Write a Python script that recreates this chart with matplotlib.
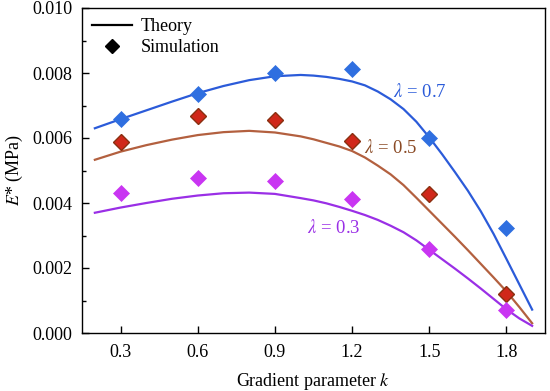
import matplotlib
matplotlib.use("Agg")
import matplotlib.pyplot as plt
from matplotlib.lines import Line2D

plt.rcParams['font.family'] = ['Liberation Serif', 'DejaVu Serif']
plt.rcParams['mathtext.fontset'] = 'stix'

# Simulation data
k_sim = [0.3, 0.6, 0.9, 1.2, 1.5, 1.8]
sim_07 = [0.00658, 0.00734, 0.00801, 0.00811, 0.00601, 0.00322]
sim_05 = [0.00587, 0.00669, 0.00655, 0.00591, 0.00428, 0.00121]
sim_03 = [0.00432, 0.00478, 0.00468, 0.00412, 0.00258, 0.00071]

# Theory curves (in 1e-3 MPa)
k_th = [0.2, 0.3, 0.4, 0.5, 0.6, 0.7, 0.8, 0.9, 1.0,
        1.05, 1.1, 1.15, 1.2, 1.25, 1.3, 1.35, 1.4, 1.45, 1.5,
        1.55, 1.6, 1.65, 1.7, 1.75, 1.8, 1.85, 1.9]
th_07 = [6.30, 6.58, 6.85, 7.12, 7.38, 7.60, 7.78, 7.90, 7.94,
         7.92, 7.88, 7.82, 7.74, 7.62, 7.43, 7.19, 6.89, 6.50, 6.02,
         5.50, 4.95, 4.38, 3.75, 3.05, 2.28, 1.50, 0.72]
th_05 = [5.33, 5.58, 5.78, 5.95, 6.09, 6.18, 6.22, 6.17, 6.05,
         5.96, 5.85, 5.74, 5.60, 5.40, 5.15, 4.88, 4.55, 4.16, 3.76,
         3.36, 2.96, 2.55, 2.13, 1.71, 1.28, 0.80, 0.30]
th_03 = [3.70, 3.86, 4.00, 4.13, 4.23, 4.30, 4.32, 4.28, 4.15,
         4.08, 3.99, 3.88, 3.76, 3.63, 3.48, 3.30, 3.10, 2.85, 2.56,
         2.27, 1.98, 1.68, 1.37, 1.05, 0.73, 0.45, 0.22]
th_07 = [v * 1e-3 for v in th_07]
th_05 = [v * 1e-3 for v in th_05]
th_03 = [v * 1e-3 for v in th_03]

x_ticks = [0.3, 0.6, 0.9, 1.2, 1.5, 1.8]
y_ticks = [0.000, 0.002, 0.004, 0.006, 0.008, 0.010]

c_blue_line, c_blue_m = '#2b5bd9', '#2f6fe0'
c_red_line, c_red_m, c_red_e = '#b3603f', '#d0281a', '#8a3010'
c_pur_line, c_pur_m = '#9a2fe6', '#c935f2'

fig = plt.figure(figsize=(5.5, 3.91), dpi=100)
ax = fig.add_axes([82/550, 1-333/391, (545-82)/550, (333-8)/391])

lw = 1.6
ax.plot(k_th, th_07, color=c_blue_line, lw=lw, solid_joinstyle='round')
ax.plot(k_th, th_05, color=c_red_line, lw=lw, solid_joinstyle='round')
ax.plot(k_th, th_03, color=c_pur_line, lw=lw, solid_joinstyle='round')

ms = 8.5
ax.plot(k_sim, sim_07, 'D', color=c_blue_m, ms=ms, mec=c_blue_m, mew=0.5, ls='none')
ax.plot(k_sim, sim_05, 'D', color=c_red_m, ms=ms, mec=c_red_e, mew=1.0, ls='none')
ax.plot(k_sim, sim_03, 'D', color=c_pur_m, ms=ms, mec=c_pur_m, mew=0.5, ls='none')

ax.text(1.465, 0.00742, r'$\lambda$ = 0.7', color=c_blue_line, fontsize=13.5, ha='center', va='center')
ax.text(1.351, 0.00569, r'$\lambda$ = 0.5', color='#8a4a25', fontsize=13.5, ha='center', va='center')
ax.text(1.13, 0.00323, r'$\lambda$ = 0.3', color=c_pur_line, fontsize=13.5, ha='center', va='center')

ax.set_xlim(0.15, 1.95)
ax.set_ylim(0.0, 0.010)
ax.set_xticks(x_ticks)
ax.set_xticklabels([f'{v:.1f}' for v in x_ticks])
ax.set_yticks(y_ticks)
ax.set_yticklabels([f'{v:.3f}' for v in y_ticks])
ax.set_yticks([0.001, 0.003, 0.005, 0.007, 0.009], minor=True)
ax.tick_params(axis='both', which='major', direction='in', length=5, width=1.0, labelsize=13, top=False, right=False)
ax.tick_params(axis='y', which='minor', direction='in', length=3, width=1.0)
ax.tick_params(axis='x', which='major', pad=8)
ax.tick_params(axis='y', which='major', pad=7)
for s in ax.spines.values():
    s.set_linewidth(1.0)

ax.set_xlabel(r'Gradient parameter $k$', fontsize=13, labelpad=7)
ax.set_ylabel(r'$E$* (MPa)', fontsize=13, labelpad=5)

handles = [Line2D([], [], color='black', lw=1.6),
           Line2D([], [], marker='D', color='black', ls='none', ms=7)]
ax.legend(handles, ['Theory', 'Simulation'], loc='upper left', frameon=False,
          fontsize=13, handlelength=2.2, borderaxespad=0.15, labelspacing=0.25,
          handletextpad=0.5, bbox_to_anchor=(0.0, 1.0))

fig.savefig('out.png', dpi=100)
